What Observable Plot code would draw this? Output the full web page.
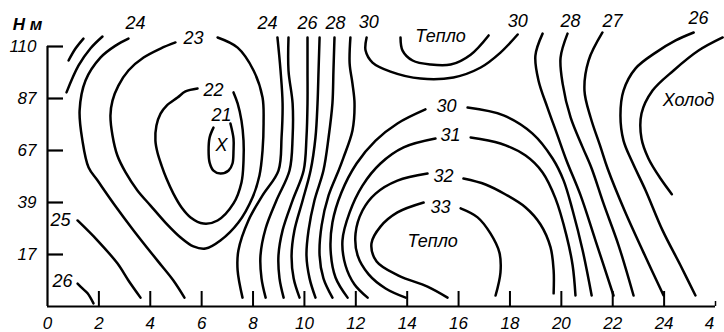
<!DOCTYPE html>
<html>
<head>
<meta charset="utf-8">
<script src="https://cdn.jsdelivr.net/npm/d3@7"></script>
<script src="https://cdn.jsdelivr.net/npm/@observablehq/plot@0.6"></script>
<style>
  html, body { margin: 0; padding: 0; background: #fff; }
  #chart svg { display: block; }
</style>
</head>
<body>
<div id="chart"></div>
<script>
// Time of day (hours) along x, sounding heights (m) along y.
const hourTicks  = [0, 2, 4, 6, 8, 10, 12, 14, 16, 18, 20, 22, 24];
const hourLabels = ["0", "2", "4", "6", "8", "10", "12", "14", "16", "18", "20", "22", "24"];
const endHour = 26;            // axis runs on to 4 h of the next day
const endLabel = "4";
const heightLevels = [0, 17, 39, 67, 87, 110];   // measuring levels, drawn evenly spaced
const heightTicks  = [17, 39, 67, 87, 110];

// Isotherms, °C: each is a list of [hour, height m] points along the line.
const iso26nw = [[0.82,103.8],[1.09,109.1],[1.40,113.5]];
const iso25nw = [[0.74,89.7],[1.21,101.6],[1.67,109.1],[2.14,114.4]];
const iso26w  = [[1.17,7.5],[1.36,5.9],[1.56,4.3],[1.79,1.0]];
const iso25w  = [[1.17,31.4],[1.95,22.9],[2.72,14.1],[3.15,8.5],[3.62,2.9]];
const iso24w  = [[3.15,113.5],[2.65,110.4],[2.06,105.1],[1.48,95.0],[1.25,82.4],[1.36,70.8],[1.60,57.8],
                 [1.95,50.8],[2.57,38.6],[3.35,27.2],[4.28,15.0],[4.90,8.5],[5.33,2.9]];
const iso23   = [[4.98,111.8],[4.40,109.1],[3.74,105.1],[3.15,99.4],[2.76,92.7],[2.53,86.2],[2.45,80.5],
                 [2.53,72.8],[2.72,64.3],[3.04,55.2],[3.50,45.5],[4.01,37.7],[4.59,30.5],[5.18,24.2],
                 [5.68,20.4],[6.15,19.5],[6.73,22.9],[7.43,30.5],[7.98,41.7],[8.25,53.5],[8.37,67.0],
                 [8.41,77.4],[8.37,87.4],[8.02,99.4],[7.40,109.5],[6.62,114.0]];
const iso22   = [[5.84,91.4],[5.37,90.1],[5.06,87.4],[4.63,84.2],[4.40,81.2],[4.24,76.6],[4.20,70.8],
                 [4.28,65.9],[4.44,58.9],[4.63,51.9],[4.90,43.8],[5.22,36.9],[5.57,32.7],[6.07,30.1],
                 [6.62,31.4],[7.24,38.6],[7.55,49.8],[7.63,61.6],[7.63,70.8],[7.55,78.5],[7.40,85.1],[7.24,89.7]];
const iso21   = [[6.46,75.8],[6.31,72.0],[6.27,67.0],[6.31,60.5],[6.46,56.2],[6.73,54.6],[7.05,56.2],
                 [7.20,60.0],[7.24,67.0],[7.24,71.6],[7.12,77.4]];
const iso24e  = [[8.95,114.0],[9.07,99.4],[9.15,85.1],[9.11,72.0],[8.99,56.2],[8.37,42.8],[7.82,31.4],
                 [7.43,18.7],[7.40,11.8],[7.59,2.9]];
const iso25e  = [[9.38,114.0],[9.38,99.4],[9.54,85.1],[9.54,72.0],[9.42,56.2],[8.91,40.1],[8.49,28.0],
                 [8.29,16.7],[8.33,9.2],[8.49,2.9]];
const iso26e  = [[10.12,114.0],[10.12,99.4],[10.12,85.1],[10.08,72.0],[9.97,56.2],[9.54,40.1],[9.15,27.2],
                 [8.99,16.7],[9.03,9.2],[9.19,2.9]];
const iso27e  = [[10.59,114.0],[10.55,99.4],[10.51,85.1],[10.43,72.0],[10.24,56.2],[9.93,40.1],[9.61,27.2],
                 [9.50,16.7],[9.58,9.2],[9.81,2.9]];
const iso28e  = [[11.17,114.0],[11.13,99.4],[11.09,85.1],[10.94,72.0],[10.74,56.2],[10.39,40.1],[10.16,27.2],
                 [10.08,16.7],[10.20,9.2],[10.43,2.9]];
const iso29e  = [[11.79,114.0],[11.76,102.5],[11.87,93.6],[11.95,85.1],[11.87,74.7],[11.52,63.2],[11.33,56.2],
                 [10.94,42.8],[10.67,29.3],[10.59,16.7],[10.74,9.2],[11.09,2.9]];
const iso30up = [[12.42,114.0],[12.38,108.2],[12.65,102.9],[13.35,98.9],[14.52,95.8],[15.80,96.3],
                 [16.86,100.7],[17.63,107.3],[18.30,115.3]];
const iso31up = [[13.74,114.0],[13.82,108.2],[14.21,103.8],[14.91,102.0],[15.69,102.0],[16.47,106.4],[17.17,114.9]];
const iso30sW = [[14.71,82.8],[13.62,77.4],[12.77,70.8],[12.03,60.0],[11.44,44.4],[11.09,30.5],[11.02,18.7],
                 [11.21,9.5],[11.68,2.9]];
const iso30sE = [[16.35,83.5],[17.75,80.5],[18.88,73.5],[19.66,62.7],[20.09,50.8],[20.44,35.6],[20.83,18.7],[21.18,3.6]];
const iso31sW = [[15.10,71.6],[13.86,68.2],[12.96,60.0],[12.26,48.1],[11.76,34.8],[11.48,22.9],[11.60,13.4],
                 [11.95,7.2],[12.46,2.9]];
const iso31sE = [[16.47,72.0],[17.63,69.7],[18.61,64.3],[19.27,55.2],[19.77,41.2],[20.20,25.0],[20.44,13.4],[20.55,3.6]];
const iso32W  = [[14.79,54.6],[13.62,50.8],[12.77,43.8],[12.26,35.6],[11.99,25.9],[12.07,16.7],[12.50,10.5],
                 [13.16,5.9],[13.94,2.9]];
const iso32E  = [[16.19,51.9],[17.05,48.7],[17.83,43.3],[18.61,36.9],[19.19,29.7],[19.58,20.0],[19.70,11.8],[19.70,4.3]];
const iso33W  = [[14.64,39.0],[13.62,34.8],[12.96,28.8],[12.61,21.7],[12.81,14.7],[13.66,10.1],[14.79,6.5],[15.57,2.9]];
const iso33E  = [[16.08,36.5],[16.74,32.7],[17.24,25.9],[17.59,17.8],[17.63,11.1],[17.44,3.6]];
const iso29ne = [[19.27,115.7],[18.99,106.0],[19.11,95.0],[19.46,83.5],[19.85,72.8],[20.20,61.6],[20.75,42.8],
                 [21.33,22.9],[22.03,3.6]];
const iso28ne = [[20.24,115.7],[19.97,105.1],[20.05,93.6],[20.36,79.7],[20.83,68.2],[21.18,57.3],[21.64,38.6],
                 [22.23,20.8],[22.81,3.6]];
const iso27ne = [[21.60,116.2],[21.06,103.8],[20.90,90.5],[21.14,79.7],[21.53,68.2],[21.80,57.3],[22.46,35.6],
                 [23.20,17.8],[23.98,3.6]];
const iso26ne = [[25.15,116.2],[24.45,112.7],[23.67,107.3],[22.89,100.3],[22.42,90.5],[22.30,80.5],[22.42,70.8],
                 [22.77,60.5],[23.28,45.5],[23.94,27.2],[24.64,13.4],[25.22,3.6]];
const iso25ne = [[26.28,114.0],[25.34,108.2],[24.37,99.4],[23.55,90.5],[23.12,81.2],[23.12,71.6],[23.39,62.7],
                 [23.86,51.9],[24.30,43.5]];

// Line labels and region names
const labelText   = ["24", "23", "22", "21", "Х", "25", "26", "24", "26", "28", "30", "Тепло", "30", "28", "27", "26",
                     "Холод", "30", "31", "32", "33", "Тепло"];
const labelHour   = [3.43, 5.68, 6.46, 6.77, 6.77, 0.51, 0.58, 8.56, 10.12, 11.21, 12.50, 15.30, 18.30, 20.36, 21.99, 25.34,
                     24.95, 15.53, 15.69, 15.41, 15.30, 14.99];
const labelHeight = [120.2, 113.5, 90.5, 80.5, 68.9, 31.4, 8.2, 120.2, 120.2, 120.2, 120.6, 114.4, 121.1, 121.1, 121.1, 122.4,
                     86.2, 83.9, 72.8, 53.0, 36.9, 22.5];

const lines = [iso26nw, iso25nw, iso26w, iso25w, iso24w, iso23, iso22, iso21, iso24e, iso25e, iso26e, iso27e, iso28e,
               iso29e, iso30up, iso31up, iso30sW, iso30sE, iso31sW, iso31sE, iso32W, iso32E, iso33W, iso33E,
               iso29ne, iso28ne, iso27ne, iso26ne, iso25ne];
const points = lines.flatMap((pts, id) => pts.map(([h, m]) => ({id, h, m})));
const labels = labelText.map((text, i) => ({text, h: labelHour[i], m: labelHeight[i]}));

const font = {fontStyle: "italic", fill: "black"};

// frame: bottom at 306 px, top level (110 m) at 46 px, levels 52 px apart
const yBottom = 306, yStep = 52;

const chart = Plot.plot({
  width: 724,
  height: 332,
  marginLeft: 47,
  marginRight: 9,
  marginTop: 46,
  marginBottom: 26,
  style: {fontFamily: "'Liberation Sans', Arial, sans-serif", background: "white", overflow: "visible"},
  x: {type: "linear", domain: [0, endHour], axis: null},
  // piecewise linear scale: the six levels are spread evenly over the frame height
  y: {type: "linear", domain: heightLevels, range: heightLevels.map((_, i) => yBottom - i * yStep), axis: null},
  marks: [
    // axis lines
    Plot.ruleX([0], {y1: 0, y2: 110, stroke: "black", strokeWidth: 2.2}),
    Plot.ruleY([0], {x1: 0, x2: endHour, stroke: "black", strokeWidth: 2.2}),
    Plot.ruleX([endHour], {y1: 0, y2: 0, insetBottom: 5, stroke: "black", strokeWidth: 1.5}),
    // inward ticks
    Plot.ruleY(heightTicks, {y: d => d, x1: 0, x2: 0, insetRight: -16, stroke: "black", strokeWidth: 2.2}),
    Plot.ruleX(hourTicks.slice(1), {x: d => d, y1: 0, y2: 0, insetBottom: 15, stroke: "black", strokeWidth: 2}),
    // tick labels
    Plot.text(heightTicks, {x: 0, y: d => d, text: d => String(d), textAnchor: "end", dx: -11, fontSize: 17, ...font}),
    Plot.text(hourTicks, {x: d => d, y: 0, text: (d, i) => hourLabels[i], dy: 17, fontSize: 17, ...font}),
    Plot.text([endLabel], {x: endHour, y: 0, text: d => d, dy: 17, dx: -6, fontSize: 17, ...font}),
    Plot.text(["Н м"], {x: 0, y: 110, text: d => d, dx: -20, dy: -22, fontSize: 17, fontWeight: "bold", ...font}),
    // isotherms
    Plot.line(points, {x: "h", y: "m", z: "id", curve: "catmull-rom", stroke: "black", strokeWidth: 2.5,
                       strokeLinecap: "round", strokeLinejoin: "round"}),
    // labels
    Plot.text(labels, {x: "h", y: "m", text: "text", fontSize: 18, ...font})
  ]
});
document.getElementById("chart").append(chart);
</script>
</body>
</html>
